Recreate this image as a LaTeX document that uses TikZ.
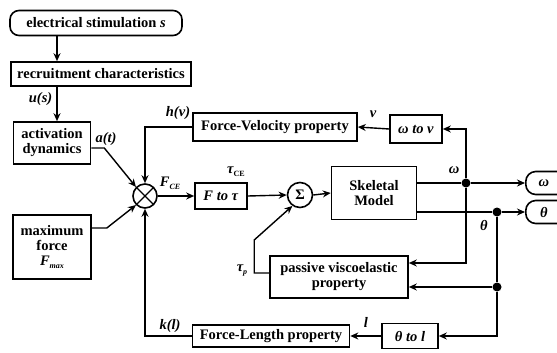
\documentclass[tikz,border=0pt]{standalone}
\usepackage{fontspec}
\setmainfont{Liberation Serif}
\usetikzlibrary{arrows.meta}
\begin{document}
\begin{tikzpicture}[x=1pt,y=-1pt,
  font=\fontsize{14.5}{15}\selectfont\bfseries,
  box/.style={draw,line width=1.6pt,inner sep=1pt,align=center},
  arr/.style={line width=1.4pt,-{Stealth[length=8pt,width=7pt]}},
  ln/.style={line width=1.4pt},
  lab/.style={inner sep=1pt,font=\fontsize{14.5}{15}\selectfont\bfseries\itshape},
  dotn/.style={circle,fill,inner sep=0pt,minimum size=9pt}]
\useasboundingbox (0,0) rectangle (557,353);
\node[box,rounded corners=9pt,minimum width=172,minimum height=25] (stim) at (96,23) {electrical stimulation \textit{s}};
\node[box,minimum width=180,minimum height=24] (recr) at (101,74) {recruitment characteristics};
\node[box,minimum width=77,minimum height=42] (act) at (52,143) {activation\\dynamics};
\node[box,minimum width=78,minimum height=64] (maxf) at (52,247) {maximum\\force\\\textit{F}\raisebox{-3pt}{\fontsize{8}{8}\selectfont\itshape max}};
\node[box,circle,minimum size=24,inner sep=0pt,path picture={
  \draw[line width=1.4pt] (path picture bounding box.north west) -- (path picture bounding box.south east)
  (path picture bounding box.north east) -- (path picture bounding box.south west);}] (mult) at (145,196) {};
\node[box,minimum width=164,minimum height=28] (fv) at (275,127) {Force-Velocity property};
\node[box,minimum width=52,minimum height=28] (wv) at (416,129) {\textit{ω to v}};
\node[box,minimum width=52,minimum height=26] (ftau) at (221,196) {\textit{F to τ}};
\node[box,circle,minimum size=25,inner sep=0pt] (sum) at (300,195) {Σ};
\node[box,minimum width=85,minimum height=53] (skel) at (374,193) {Skeletal\\Model};
\node[box,minimum width=138,minimum height=42] (pv) at (339,277) {passive viscoelastic\\property};
\node[box,minimum width=157,minimum height=22] (fl) at (271,336) {Force-Length property};
\node[box,minimum width=56,minimum height=25] (tl) at (410,336) {\textit{θ to l}};
\node[box,rounded corners=10pt,minimum width=44,minimum height=23,anchor=west] (outw) at (525,183) {\textit{ω}\hspace{8pt}};
\node[box,rounded corners=10pt,minimum width=44,minimum height=23,anchor=west] (outt) at (525,212) {\textit{θ}\hspace{8pt}};
\coordinate (cx) at (57,0);
\node[dotn] (dw) at (466,183) {};
\node[dotn] (dt) at (497,212) {};
\node[dotn] (dt2) at (497,287) {};
% connectors
\draw[arr] (stim.south -| cx) -- (recr.north -| cx);
\draw[arr] (recr.south -| cx) -- node[lab,left=3pt,pos=0.35] {u(s)} (act.north -| cx);
\draw[arr] ([yshift=-5pt]act.east) -- ++(13,0) -- (mult.135);
\node[lab] at (106,139) {a(t)};
\draw[arr] ([yshift=19pt]maxf.east) -- ++(15,0) -- (mult.225);
\draw[arr] (fl.west) -- (mult.south |- fl.west) -- (mult.south);
\node[lab] at (170,326) {k(l)};
\draw[arr] (fv.west) -- (mult.north |- fv.west) -- (mult.north);
\node[lab] at (178,113) {h(v)};
\draw[arr] (mult.east) -- (ftau.west);
\node[lab] at (170,183) {\textit{F}\raisebox{-3pt}{\fontsize{8}{8}\selectfont CE}};
\draw[arr] (ftau.east) -- (sum.west);
\node[lab] at (236,172) {τ\raisebox{-3pt}{\fontsize{8}{8}\selectfont\upshape CE}};
\draw[arr] (sum.east) -- (skel.west);
\draw[arr] ([yshift=4pt]pv.west) -- ++(-15,0) -- ++(0,-33) -- (sum.235);
\node[lab] at (242,271) {τ\raisebox{-3pt}{\fontsize{8}{8}\selectfont p}};
\draw[ln] ([yshift=10pt]skel.east) -- (dw);
\draw[arr] (dw) -- (outw.west);
\draw[ln] ([yshift=-19pt]skel.east) -- (dt);
\draw[arr] (dt) -- (outt.west);
\node[lab] at (454,170) {ω};
\node[lab] at (484,226) {θ};
\draw[arr] (dw) |- (wv.east);
\draw[arr] (wv.west) -- (fv.east);
\node[lab] at (373,114) {v};
\draw[arr] (dw) |- ([yshift=14pt]pv.east);
\draw[ln] (dt) -- (dt2);
\draw[arr] (dt2) -- (pv.east |- dt2);
\draw[arr] (dt2) |- (tl.east);
\draw[arr] (tl.west) -- (fl.east);
\node[lab] at (366,322) {l};
\end{tikzpicture}
\end{document}
